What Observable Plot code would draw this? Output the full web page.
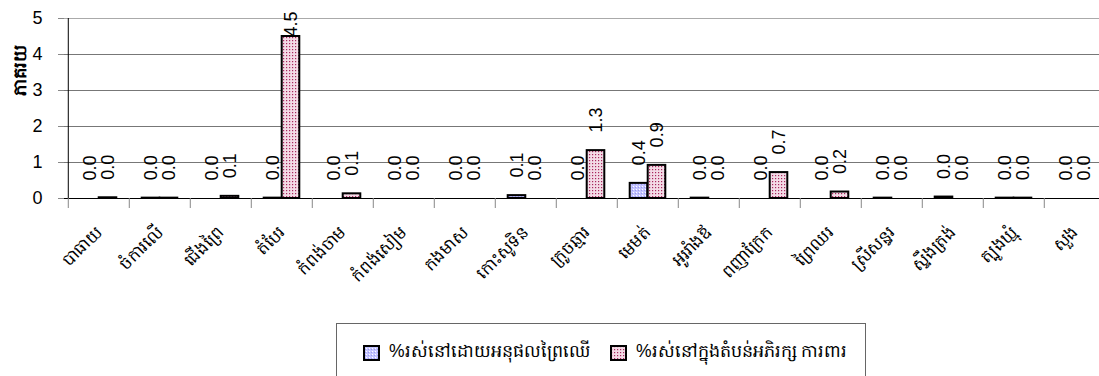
<!DOCTYPE html>
<html><head><meta charset="utf-8">
<script src="https://cdn.jsdelivr.net/npm/d3@7"></script>
<script src="https://cdn.jsdelivr.net/npm/@observablehq/plot@0.6"></script>
<style>
html,body{margin:0;padding:0;background:#fff;}
body{width:1099px;height:376px;overflow:hidden;position:relative;font-family:"Liberation Sans",Arial,"Noto Sans",sans-serif;}
#chart svg{overflow:visible;}
#legend{position:absolute;left:336px;top:323px;width:530px;height:70px;border:1px solid #666;box-sizing:border-box;background:#fff;}
.item{position:absolute;top:16px;display:flex;align-items:center;font-size:17.5px;color:#000;white-space:nowrap;}
.item svg{margin-right:9px;}
</style></head><body>
<div id="chart"></div>
<div id="legend"></div>
<script>
const districts = ["បាធាយ","ចំការលើ","ជើងព្រៃ","តំបែរ","កំពង់ចាម","កំពង់សៀម","កងមាស","កោះសូទិន","ក្រូចឆ្មារ","មេមត់","អូររាំងឪ","ពញាក្រែក","ព្រៃឈរ","ស្រីសន្ធរ","ស្ទឹងត្រង់","ត្បូងឃ្មុំ","សួង"];
const seriesNames = ["%រស់នៅដោយអនុផលព្រៃឈើ","%រស់នៅក្នុងតំបន់អភិរក្ស ការពារ"];
const forestProducts = [0, 0.01, 0, 0.01, 0, 0, 0, 0.08, 0, 0.42, 0.01, 0, 0, 0.01, 0.04, 0.01, 0];
const protectedArea  = [0.02, 0.01, 0.06, 4.5, 0.13, 0, 0, 0, 1.33, 0.92, 0, 0.72, 0.18, 0, 0, 0.01, 0];
const yTicks = [0, 1, 2, 3, 4, 5];
const yTitle = "ភាគរយ";

const W = 1099, H = 323, ML = 64, MR = -9, MT = 18, MB = 125;
const bw = (W - ML - MR) / districts.length;
const barW = 18;
const inset = (bw - barW) / 2;
const fmt = d3.format(".1f");

const rowsA = districts.map((d, i) => ({district: d, v: forestProducts[i]}));
const rowsB = districts.map((d, i) => ({district: d, v: protectedArea[i]}));
const labelY = d => Math.min(d.v + 0.5, 4.5);
const font = "'Liberation Sans', Arial, 'Noto Sans', sans-serif";

const plot = Plot.plot({
  width: W, height: H,
  marginLeft: ML, marginRight: MR, marginTop: MT, marginBottom: MB,
  style: {fontFamily: font, background: "#fff", overflow: "visible"},
  x: {domain: districts, padding: 0},
  y: {domain: [0, 5]},
  marks: [
    Plot.gridY({ticks: yTicks.filter(t => t > 0), stroke: d => d === 5 ? "#aaaaaa" : "#777777", strokeOpacity: 1}),
    Plot.axisY({ticks: yTicks, tickFormat: d3.format("d"), tickSize: 6, tickPadding: 16, fontSize: 18, stroke: "#888", label: null}),
    Plot.axisX({tickRotate: -45, tickSize: 0, tickPadding: 31, fontSize: 17, label: null}),
    Plot.text([yTitle], {frameAnchor: "left", rotate: -90, dx: -44, dy: -13, fontWeight: "bold", fontSize: 18}),
    Plot.barY(rowsA.filter(d => d.v > 0), {x: "district", y: "v", dx: -barW / 2, insetLeft: inset, insetRight: inset, fill: "url(#patBlue)", stroke: "#000", strokeWidth: 2}),
    Plot.barY(rowsB.filter(d => d.v > 0), {x: "district", y: "v", dx: barW / 2, insetLeft: inset, insetRight: inset, fill: "url(#patPink)", stroke: "#000", strokeWidth: 2}),
    Plot.ruleY([0], {stroke: "#000", strokeWidth: 1.2}),
    Plot.ruleX(districts, {x: d => d, dx: -bw / 2, y1: 0, y2: 0, insetBottom: -10, stroke: "#888"}),
    Plot.ruleX([districts[0]], {x: d => d, dx: -bw / 2, y1: 0, y2: 5, stroke: "#000"}),
    Plot.text(rowsA, {x: "district", y: labelY, text: d => fmt(d.v), dx: -barW / 2, rotate: -90, textAnchor: "start", lineAnchor: "middle", fontSize: 18, fill: "#000"}),
    Plot.text(rowsB, {x: "district", y: labelY, text: d => fmt(d.v), dx: barW / 2, rotate: -90, textAnchor: "start", lineAnchor: "middle", fontSize: 18, fill: "#000"})
  ]
});

const patDefs = `
<pattern id="patBlue" width="3" height="3" patternUnits="userSpaceOnUse">
  <rect width="3" height="3" fill="#c4c4ff"/>
  <rect x="0" y="0" width="1" height="1" fill="#ffffff"/>
  <rect x="2" y="1" width="1" height="1" fill="#9a9af0"/>
</pattern>
<pattern id="patPink" width="3" height="3" patternUnits="userSpaceOnUse">
  <rect width="3" height="3" fill="#f3dbe6"/>
  <rect x="1" y="1" width="1.2" height="1.2" fill="#a8285e"/>
</pattern>`;
const defs = document.createElementNS("http://www.w3.org/2000/svg", "defs");
defs.innerHTML = patDefs;
plot.insertBefore(defs, plot.firstChild);
document.getElementById("chart").appendChild(plot);

const legend = document.getElementById("legend");
const lx = [26, 273];
seriesNames.forEach((name, i) => {
  const it = document.createElement("div");
  it.className = "item";
  it.style.left = lx[i] + "px";
  it.innerHTML = `<svg width="17" height="16"><defs>${patDefs.replace(/id="pat/g, 'id="lg' + i + 'pat')}</defs><rect x="1" y="1" width="15" height="14" fill="url(#lg${i}${i === 0 ? 'patBlue' : 'patPink'})" stroke="#000" stroke-width="2"/></svg><span>${name}</span>`;
  legend.appendChild(it);
});
</script>
</body></html>
